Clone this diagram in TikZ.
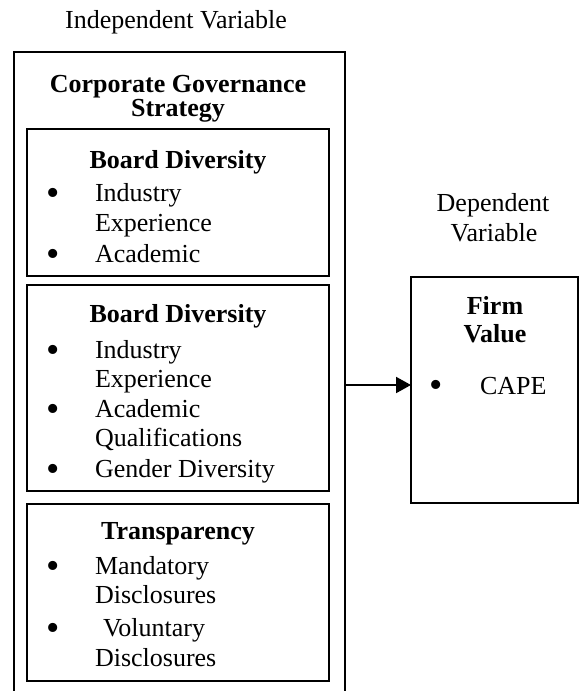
\documentclass[tikz,border=0pt]{standalone}
\usepackage{fontspec}
\setmainfont{Liberation Serif}
\usetikzlibrary{arrows.meta}
\begin{document}
\begin{tikzpicture}[x=1pt,y=-1pt,
  frame/.style={draw, line width=1.8pt, inner sep=0pt, outer sep=0pt, anchor=north west},
  txt/.style={inner sep=0pt, outer sep=0pt, font=\fontsize{26}{30}\selectfont},
  head/.style={txt, anchor=base, font=\fontsize{26}{30}\selectfont\bfseries},
  item/.style={txt, anchor=base west},
  label/.style={txt, anchor=base},
  bul/.style={inner sep=0pt, outer sep=0pt, anchor=base, font=\fontsize{38}{40}\selectfont, yshift=-12pt}]
\useasboundingbox (0,0) rectangle (584,691);
\clip (0,0) rectangle (584,691);

% frames
\node[frame, minimum width=331pt, minimum height=680pt] (outer) at (14,52) {};
\node[frame, minimum width=302pt, minimum height=147pt] (box1) at (27,129) {};
\node[frame, minimum width=302pt, minimum height=206pt] (box2) at (27,285) {};
\node[frame, minimum width=302pt, minimum height=177pt] (box3) at (27,504) {};
\node[frame, minimum width=167pt, minimum height=226pt] (firm) at (411,277) {};

% labels
\node[label] (indep) at (176,28) {Independent Variable};
\node[label] (dep1) at (493,211) {Dependent};
\node[label] (dep2) at (494,241) {Variable};

% outer heading
\node[head] (cg1) at (178,92) {Corporate Governance};
\begin{scope}
\clip (14,52) rectangle (345,128);
\node[head] (cg2) at (178,116) {Strategy};
\end{scope}

% box 1
\node[head] (b1h) at (178,168) {Board Diversity};
\node[bul] (b1d1) at (53,193) {•};
\node[item] (b1t1) at (95,201) {Industry};
\node[item] (b1t2) at (95,231) {Experience};
\node[bul] (b1d2) at (53,254) {•};
\node[item] (b1t3) at (95,262) {Academic};

% box 2
\node[head] (b2h) at (178,322) {Board Diversity};
\node[bul] (b2d1) at (53,350) {•};
\node[item] (b2t1) at (95,358) {Industry};
\node[item] (b2t2) at (95,387) {Experience};
\node[bul] (b2d2) at (53,409) {•};
\node[item] (b2t3) at (95,417) {Academic};
\node[item] (b2t4) at (95,446) {Qualifications};
\node[bul] (b2d3) at (53,469) {•};
\node[item] (b2t5) at (95,477) {Gender Diversity};

% box 3
\node[head] (b3h) at (178,539) {Transparency};
\node[bul] (b3d1) at (53,566) {•};
\node[item] (b3t1) at (95,574) {Mandatory};
\node[item] (b3t2) at (95,603) {Disclosures};
\node[bul] (b3d2) at (53,628) {•};
\node[item] (b3t3) at (103,636) {Voluntary};
\node[item] (b3t4) at (95,666) {Disclosures};

% firm value
\node[head] (fv1) at (495,314) {Firm};
\node[head] (fv2) at (495,342) {Value};
\node[bul] (fvd) at (436,385) {•};
\node[item] (fvt) at (480,394) {CAPE};

% arrow
\coordinate (ay) at (0,385);
\draw[line width=2pt, -{Triangle[length=15pt,width=16pt]}] (outer.east |- ay) -- (firm.west |- ay);
\end{tikzpicture}
\end{document}
